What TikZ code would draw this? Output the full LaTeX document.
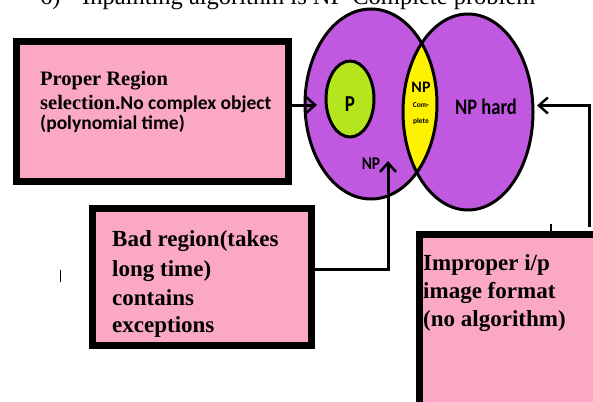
\documentclass[tikz,border=0pt]{standalone}
\usepackage{fontspec}
\setmainfont{Liberation Serif}
\newfontfamily\calfont{Carlito}
\usetikzlibrary{arrows.meta}
\definecolor{boxpink}{RGB}{250,168,198}
\definecolor{npurple}{RGB}{192,88,224}
\definecolor{pgreen}{RGB}{181,230,29}
\definecolor{npyellow}{RGB}{255,242,0}
\begin{document}
\begin{tikzpicture}[x=1pt,y=-1pt,
  pinkbox/.style={draw=black, line width=7pt, fill=boxpink, inner sep=0pt},
  boxtext/.style={anchor=base west, inner sep=0pt},
  badfont/.style={font=\bfseries\fontsize{23}{28}\selectfont},
  setline/.style={line width=3pt},
  conn/.style={line width=3pt, -{Straight Barb[length=9pt,width=16pt,line width=2.5pt]}},
  lbl/.style={inner sep=0pt, font=\calfont\bfseries}
]
\useasboundingbox (0,0) rectangle (593,401);
\clip (0,0) rectangle (593,401);

% title
\node[anchor=base west, inner sep=0pt, font=\fontsize{24.5}{26}\selectfont] (num) at (40,5) {6)};
\node[anchor=base west, inner sep=0pt, font=\fontsize{24.5}{26}\selectfont] (title) at (82,5) {Inpainting algorithm is NP-Complete problem};

% sets
\fill[npurple] (468,112) ellipse [x radius=65pt, y radius=98pt];
\fill[npurple] (371,104) ellipse [x radius=66pt, y radius=95pt];
\begin{scope}
  \clip (371,104) ellipse [x radius=66pt, y radius=95pt];
  \fill[npyellow] (468,112) ellipse [x radius=65pt, y radius=98pt];
\end{scope}
\draw[setline] (468,112) ellipse [x radius=65pt, y radius=98pt];
\draw[setline] (371,104) ellipse [x radius=66pt, y radius=95pt];
\draw[setline, fill=pgreen] (350,99) ellipse [x radius=24pt, y radius=38pt];

\node[lbl, font=\calfont\bfseries\fontsize{19}{19}\selectfont] (plbl) at (350,104) {\scalebox{1}[1.2]{P}};
\node[lbl, font=\calfont\bfseries\fontsize{15.5}{16}\selectfont] (nplbl) at (371,164) {\scalebox{1}[1.15]{NP}};
\node[lbl, font=\calfont\bfseries\fontsize{18.5}{19}\selectfont] (nphard) at (486,107) {\scalebox{1}[1.2]{NP hard}};
\node[lbl, font=\calfont\bfseries\fontsize{16}{16}\selectfont] (npc) at (421,87) {NP};
\node[lbl, font=\calfont\bfseries\fontsize{7.5}{8}\selectfont] (com) at (421,105) {Com-};
\node[lbl, font=\calfont\bfseries\fontsize{7.5}{8}\selectfont] (plete) at (421,121.5) {plete};

% boxes
\node[pinkbox, minimum width=272pt, minimum height=140pt] (proper) at (152.5,111.5) {};
\node[boxtext] (propertext) at (40,86) {\fontsize{20.5}{24}\selectfont\bfseries Proper Region};
\node[boxtext] (propertext2) at (40,110) {\fontsize{20.5}{24}\selectfont\bfseries selection.{\calfont\fontsize{19.5}{22}\selectfont No complex object}};
\node[boxtext] (propertext3) at (40,129) {\calfont\bfseries\fontsize{19.5}{22}\selectfont (polynomial time)};

\node[pinkbox, minimum width=219pt, minimum height=137pt] (bad) at (202,277) {};
\node[boxtext, badfont] (bad1) at (112,246.5) {Bad region(takes};
\node[boxtext, badfont] (bad2) at (112,276) {long time)};
\node[boxtext, badfont] (bad3) at (112,305) {contains};
\node[boxtext, badfont] (bad4) at (112,332.5) {exceptions};

\node[pinkbox, anchor=north west, minimum width=200pt, minimum height=200pt] (improper) at (415.5,230.5) {};
\node[boxtext, badfont] (imp1) at (423,270) {Improper i/p};
\node[boxtext, badfont] (imp2) at (423,298.5) {image format};
\node[boxtext, badfont] (imp3) at (423,326.5) {(no algorithm)};

% connectors
\coordinate (ptip) at (317,105);
\coordinate (nptip) at (388,161);
\coordinate (hardtip) at (537,105.5);
\draw[conn] (proper.east |- ptip) -- (ptip);
\draw[conn] (bad.east |- 0,269) -- (388,269) -- (nptip);
\draw[conn] (589.5,227) -- (589.5,105.5) -- (hardtip);

% small marks
\draw[line width=1.2pt] (60.7,270) -- (60.7,281.5);
\draw[line width=2.5pt] (551,224) -- (551,233);
\end{tikzpicture}
\end{document}
